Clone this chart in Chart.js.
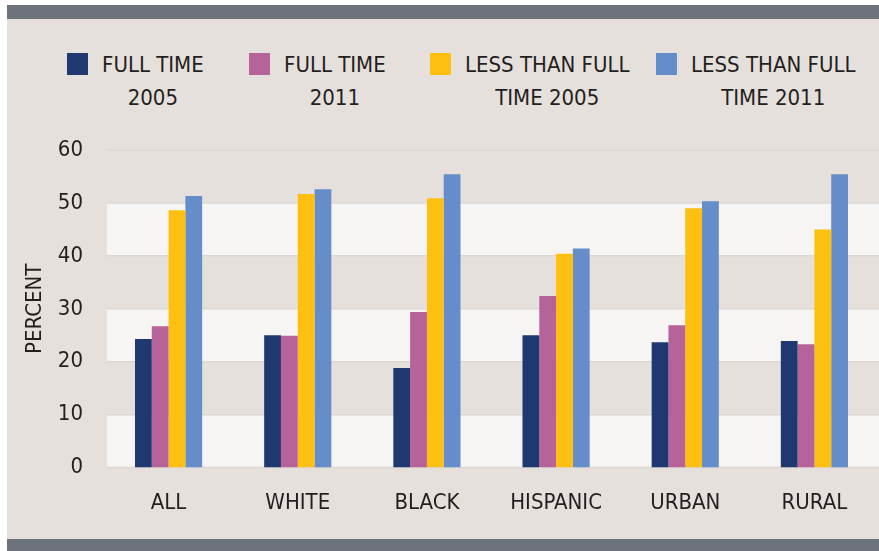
<!DOCTYPE html>
<html>
<head>
<meta charset="utf-8">
<script src="https://cdn.jsdelivr.net/npm/chart.js@4/dist/chart.umd.min.js"></script>
<style>
  body { margin: 0; background: #fff; width: 879px; height: 551px; overflow: hidden; position: relative;
         font-family: "DejaVu Sans Condensed", "Liberation Sans Narrow", sans-serif; color: #231f20; }
  #frame { position: absolute; left: 7px; top: 5px; width: 872px; height: 546px; background: #e6e0dc; }
  .bar { position: absolute; left: 7px; width: 872px; background: #6e727a; }
  #topbar { top: 5px; height: 14px; }
  #bottombar { top: 539px; height: 12px; }
  .box { position: absolute; top: 53px; width: 21px; height: 22px; }
  .txt { position: absolute; top: 48px; font-size: 22px; line-height: 33px; text-align: center; white-space: nowrap; }
  #wrap { position: absolute; left: 0; top: 120px; width: 879px; height: 420px; }
</style>
</head>
<body>
<div id="frame"></div>
<div id="topbar" class="bar"></div>
<div id="bottombar" class="bar"></div>
<div id="legend"></div>
<div id="wrap"><canvas id="chart"></canvas></div>
<script>
const categories = ["ALL", "WHITE", "BLACK", "HISPANIC", "URBAN", "RURAL"];
const fullTime2005 = [24.3, 25.0, 18.8, 25.0, 23.7, 23.9];
const fullTime2011 = [26.7, 24.9, 29.4, 32.4, 26.9, 23.3];
const lessThan2005 = [48.6, 51.7, 50.9, 40.4, 49.0, 45.0];
const lessThan2011 = [51.3, 52.6, 55.4, 41.4, 50.3, 55.4];
const seriesNames = [["FULL TIME", "2005"], ["FULL TIME", "2011"], ["LESS THAN FULL", "TIME 2005"], ["LESS THAN FULL", "TIME 2011"]];
const seriesColors = ["#1f3870", "#b66399", "#fdc010", "#648dca"];
const yTicks = [0, 10, 20, 30, 40, 50, 60];

// legend boxes, text starts 35px right of each box
const legendBoxX = [67, 249, 430, 656];

const legend = document.getElementById("legend");
let html = "";
for (let i = 0; i < seriesNames.length; i++) {
  html += `<div class="box" style="left:${legendBoxX[i]}px;background:${seriesColors[i]}"></div>
           <div class="txt" style="left:${legendBoxX[i] + 35}px">${seriesNames[i][0]}<br>${seriesNames[i][1]}</div>`;
}
legend.innerHTML = html;

const bands = {
  id: "bands",
  beforeDatasetsDraw(chart) {
    const { ctx, chartArea, scales } = chart;
    const y = scales.y;
    ctx.save();
    ctx.fillStyle = "#f6f5f3";
    for (let i = 0; i < yTicks.length - 1; i += 2) {
      const top = y.getPixelForValue(yTicks[i + 1]);
      const bottom = y.getPixelForValue(yTicks[i]);
      ctx.fillRect(chartArea.left + 3, top, chartArea.right - chartArea.left - 3, bottom - top);
    }
    ctx.strokeStyle = "#dcd7d3";
    ctx.lineWidth = 1.5;
    for (const t of yTicks) {
      const py = y.getPixelForValue(t);
      ctx.beginPath();
      ctx.moveTo(chartArea.left + 3, py);
      ctx.lineTo(chartArea.right, py);
      ctx.stroke();
    }
    ctx.restore();
  }
};

const font = { family: '"DejaVu Sans Condensed", "Liberation Sans Narrow", sans-serif', size: 22 };
const data = [fullTime2005, fullTime2011, lessThan2005, lessThan2011];

new Chart(document.getElementById("chart"), {
  type: "bar",
  data: {
    labels: categories,
    datasets: data.map((d, i) => ({
      label: seriesNames[i].join(" "),
      data: d,
      backgroundColor: seriesColors[i],
      borderWidth: 0,
      categoryPercentage: 0.52,
      barPercentage: 1.0
    }))
  },
  options: {
    responsive: true,
    maintainAspectRatio: false,
    animation: false,
    layout: { padding: { top: 30, right: 0, bottom: 10, left: 0 } },
    plugins: { legend: { display: false }, tooltip: { enabled: false } },
    scales: {
      x: {
        grid: { display: false },
        border: { display: false },
        ticks: { color: "#231f20", font: font, padding: 14, maxRotation: 0 }
      },
      y: {
        min: 0,
        max: 60,
        afterFit(scale) { scale.width = 104; },
        afterBuildTicks(scale) { scale.ticks = yTicks.map(v => ({ value: v })); },
        grid: { display: false },
        border: { display: false },
        ticks: { color: "#231f20", font: font, padding: 13 },
        title: { display: true, text: "PERCENT", color: "#231f20", font: font, padding: { top: 22, bottom: 0 } }
      }
    }
  },
  plugins: [bands]
});
</script>
</body>
</html>
